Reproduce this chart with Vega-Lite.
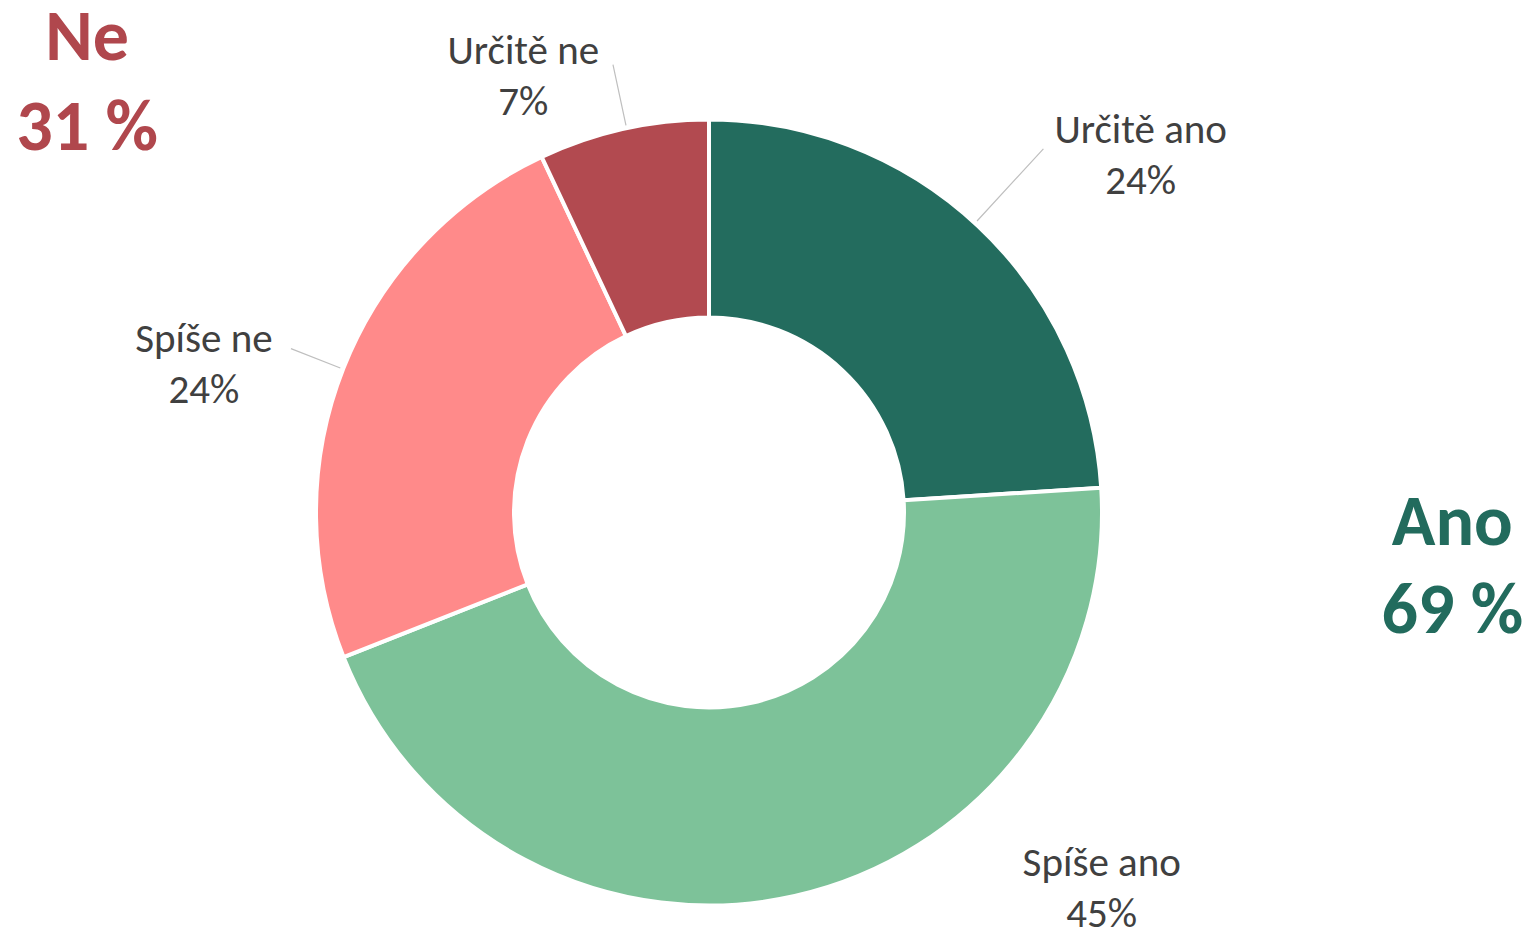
{
  "$schema": "https://vega.github.io/schema/vega-lite/v6.json",
  "width": 1418,
  "height": 841,
  "autosize": "none",
  "padding": {"left": 0, "right": 114, "top": 92, "bottom": 0},
  "background": "#ffffff",
  "view": {"stroke": null},
  "config": {"font": "Carlito, Lato, sans-serif"},
  "datasets": {
    "odpovedi": [
      {"kategorie": "Určitě ano", "podil": 24, "poradi": 1, "popisek": "Určitě ano\n24%"},
      {"kategorie": "Spíše ano", "podil": 45, "poradi": 2, "popisek": "Spíše ano\n45%"},
      {"kategorie": "Spíše ne", "podil": 24, "poradi": 3, "popisek": "Spíše ne\n24%"},
      {"kategorie": "Určitě ne", "podil": 7, "poradi": 4, "popisek": "Určitě ne\n7%"}
    ],
    "skupiny": [
      {"skupina": "Ano", "podil": 69, "poradi": 1, "popisek": "Ano\n69 %"},
      {"skupina": "Ne", "podil": 31, "poradi": 2, "popisek": "Ne\n31 %"}
    ]
  },
  "data": {"name": "odpovedi"},
  "transform": [
    {"stack": "podil", "groupby": [], "sort": [{"field": "poradi", "order": "ascending"}], "as": ["zacatek", "konec"]}
  ],
  "layer": [
    {
      "mark": {"type": "arc", "outerRadius": 393, "innerRadius": 195, "stroke": "#ffffff", "strokeWidth": 4},
      "encoding": {
        "theta": {"field": "zacatek", "type": "quantitative", "stack": null, "scale": {"domain": [0, 100], "range": [0, 6.283185307179586]}},
        "theta2": {"field": "konec"},
        "color": {
          "field": "kategorie", "type": "nominal", "legend": null,
          "scale": {"domain": ["Určitě ano", "Spíše ano", "Spíše ne", "Určitě ne"], "range": ["#236C5E", "#7DC299", "#FF8A8A", "#B24A50"]}
        }
      }
    },
    {
      "transform": [{"filter": "datum.kategorie === 'Určitě ano'"}],
      "mark": {"type": "arc", "radius": 494, "radius2": 396, "thetaOffset": 0.7435, "theta2Offset": 0.7435, "stroke": "#BFBFBF", "strokeWidth": 1.2, "fillOpacity": 0},
      "encoding": {
        "theta": {"field": "zacatek", "type": "quantitative", "stack": null, "scale": {"domain": [0, 100], "range": [0, 6.283185307179586]}},
        "theta2": {"field": "zacatek"}
      }
    },
    {
      "transform": [{"filter": "datum.kategorie === 'Spíše ne'"}],
      "mark": {"type": "arc", "radius": 449, "radius2": 396, "thetaOffset": 0.7505, "theta2Offset": 0.7505, "stroke": "#BFBFBF", "strokeWidth": 1.2, "fillOpacity": 0},
      "encoding": {
        "theta": {"field": "zacatek", "type": "quantitative", "stack": null, "scale": {"domain": [0, 100], "range": [0, 6.283185307179586]}},
        "theta2": {"field": "zacatek"}
      }
    },
    {
      "transform": [{"filter": "datum.kategorie === 'Určitě ne'"}],
      "mark": {"type": "arc", "radius": 458, "radius2": 396, "thetaOffset": 0.2286, "theta2Offset": 0.2286, "stroke": "#BFBFBF", "strokeWidth": 1.2, "fillOpacity": 0},
      "encoding": {
        "theta": {"field": "zacatek", "type": "quantitative", "stack": null, "scale": {"domain": [0, 100], "range": [0, 6.283185307179586]}},
        "theta2": {"field": "zacatek"}
      }
    },
    {
      "transform": [{"filter": "datum.kategorie === 'Určitě ano'"}],
      "mark": {"type": "text", "radius": 568, "thetaOffset": 0.8633, "fontSize": 41, "lineHeight": 51, "lineBreak": "\n", "color": "#404040", "align": "center", "baseline": "alphabetic"},
      "encoding": {
        "theta": {"field": "zacatek", "type": "quantitative", "stack": null, "scale": {"domain": [0, 100], "range": [0, 6.283185307179586]}},
        "text": {"field": "popisek"}
      }
    },
    {
      "transform": [{"filter": "datum.kategorie === 'Spíše ano'"}],
      "mark": {"type": "text", "radius": 535, "thetaOffset": 0.8093, "fontSize": 41, "lineHeight": 51, "lineBreak": "\n", "color": "#404040", "align": "center", "baseline": "alphabetic"},
      "encoding": {
        "theta": {"field": "zacatek", "type": "quantitative", "stack": null, "scale": {"domain": [0, 100], "range": [0, 6.283185307179586]}},
        "text": {"field": "popisek"}
      }
    },
    {
      "transform": [{"filter": "datum.kategorie === 'Spíše ne'"}],
      "mark": {"type": "text", "radius": 530, "thetaOffset": 0.6850, "fontSize": 41, "lineHeight": 51, "lineBreak": "\n", "color": "#404040", "align": "center", "baseline": "alphabetic"},
      "encoding": {
        "theta": {"field": "zacatek", "type": "quantitative", "stack": null, "scale": {"domain": [0, 100], "range": [0, 6.283185307179586]}},
        "text": {"field": "popisek"}
      }
    },
    {
      "transform": [{"filter": "datum.kategorie === 'Určitě ne'"}],
      "mark": {"type": "text", "radius": 485, "thetaOffset": 0.0471, "fontSize": 41, "lineHeight": 51, "lineBreak": "\n", "color": "#404040", "align": "center", "baseline": "alphabetic"},
      "encoding": {
        "theta": {"field": "zacatek", "type": "quantitative", "stack": null, "scale": {"domain": [0, 100], "range": [0, 6.283185307179586]}},
        "text": {"field": "popisek"}
      }
    },
    {
      "data": {"name": "skupiny"},
      "transform": [
        {"stack": "podil", "groupby": [], "sort": [{"field": "poradi", "order": "ascending"}], "as": ["zacatek", "konec"]},
        {"filter": "datum.skupina === 'Ano'"}
      ],
      "mark": {"type": "text", "radius": 744, "thetaOffset": 1.6144, "fontSize": 72, "fontWeight": "bold", "lineHeight": 88, "lineBreak": "\n", "color": "#226B5D", "align": "center", "baseline": "alphabetic"},
      "encoding": {
        "theta": {"field": "zacatek", "type": "quantitative", "stack": null, "scale": {"domain": [0, 100], "range": [0, 6.283185307179586]}},
        "text": {"field": "popisek"}
      }
    },
    {
      "data": {"name": "skupiny"},
      "transform": [
        {"stack": "podil", "groupby": [], "sort": [{"field": "poradi", "order": "ascending"}], "as": ["zacatek", "konec"]},
        {"filter": "datum.skupina === 'Ne'"}
      ],
      "mark": {"type": "text", "radius": 769, "thetaOffset": 1.0060, "fontSize": 72, "fontWeight": "bold", "lineHeight": 90, "lineBreak": "\n", "color": "#B0474D", "align": "center", "baseline": "alphabetic"},
      "encoding": {
        "theta": {"field": "zacatek", "type": "quantitative", "stack": null, "scale": {"domain": [0, 100], "range": [0, 6.283185307179586]}},
        "text": {"field": "popisek"}
      }
    }
  ]
}
